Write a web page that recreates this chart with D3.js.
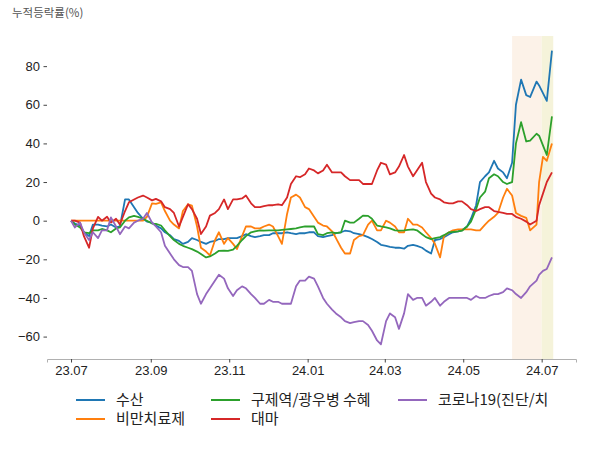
<!DOCTYPE html>
<html><head><meta charset="utf-8">
<script src="https://cdn.jsdelivr.net/npm/d3@7"></script>
<style>
body{margin:0;background:#fff;}
svg{display:block;font-family:"Noto Sans CJK KR","Noto Sans",sans-serif;}
</style></head>
<body><svg id="c" width="600" height="450"></svg>
<script>
const dates = ["2023-07-01","2023-07-04","2023-07-08","2023-07-11","2023-07-15","2023-07-18","2023-07-22","2023-07-25","2023-07-29","2023-08-01",
"2023-08-05","2023-08-08","2023-08-12","2023-08-15","2023-08-19","2023-08-22","2023-08-26","2023-08-29","2023-09-02","2023-09-05",
"2023-09-09","2023-09-12","2023-09-16","2023-09-19","2023-09-23","2023-09-26","2023-09-30","2023-10-03","2023-10-07","2023-10-10",
"2023-10-14","2023-10-17","2023-10-21","2023-10-24","2023-10-28","2023-10-31","2023-11-04","2023-11-07","2023-11-11","2023-11-14",
"2023-11-18","2023-11-21","2023-11-25","2023-11-28","2023-12-02","2023-12-05","2023-12-09","2023-12-12","2023-12-16","2023-12-19",
"2023-12-23","2023-12-26","2023-12-30","2024-01-02","2024-01-06","2024-01-09","2024-01-13","2024-01-16","2024-01-20","2024-01-23",
"2024-01-27","2024-01-30","2024-02-03","2024-02-06","2024-02-10","2024-02-13","2024-02-17","2024-02-20","2024-02-24","2024-02-27",
"2024-03-02","2024-03-05","2024-03-09","2024-03-12","2024-03-16","2024-03-19","2024-03-23","2024-03-26","2024-03-30","2024-04-02",
"2024-04-06","2024-04-09","2024-04-13","2024-04-16","2024-04-20","2024-04-23","2024-04-27","2024-04-30","2024-05-04","2024-05-07",
"2024-05-11","2024-05-14","2024-05-18","2024-05-21","2024-05-25","2024-05-28","2024-06-01","2024-06-04","2024-06-08",
"2024-06-11","2024-06-15","2024-06-19","2024-06-22","2024-06-27","2024-06-29","2024-07-02","2024-07-05","2024-07-09"];

const seriesNames = ["수산","비만치료제","구제역/광우병 수혜","대마","코로나19(진단/치"];
const seriesColors = ["#1f77b4","#ff7f0e","#2ca02c","#d62728","#9467bd"];

const suSan = [0,-1.5,-2.5,-6,-8,-2,-2,-2.6,-3,-2,
-3.5,-3,11,11,7,4,1,-0.5,-1,-2.5,
-4,-6,-7.5,-9.5,-10.5,-12,-11,-9,-10,-11,
-12,-11,-10.5,-9.5,-9.5,-9,-9,-9,-8,-7,
-8,-8.5,-8,-7.5,-7.5,-6.5,-6.5,-6.5,-6,-6.5,
-7,-6.5,-6.5,-6,-6,-8,-8.5,-8,-7.5,-6.5,
-6,-5.2,-5.5,-6.5,-7,-7.5,-8.5,-9.5,-11,-12.5,
-13,-13.5,-14,-14,-14.5,-13,-12.5,-13,-14,-15.5,
-17,-10,-9.5,-8.5,-7,-6,-5.5,-5,-3,1,
8,20,23,25,31,27,25,22,30,
60,73,65,64,72,70,66,62,88];

const biman = [0,0,0,0,0,0,0,0,0,0,
0,0,0,0,0,0,0,2,9,8.7,
9.5,5,0,-2,-4,5,8.5,7.8,-3,-14,
-16,-18,-10,-6,-12,-9,-12,-14.7,-8,-3,
-3,-4,-4,-3,-2,-3,-8,-12,3.5,12,
13.5,12,7,6,2,-1,-2.5,-3,-5.5,-9,
-14,-17,-17,-10,-8,-7.5,-2,0,-5,-5,
0,-1,-3,-6,-6,1,-2,-2,-3.5,-6,
-9,-12,-19,-8,-6,-5,-4.5,-4.5,-4.5,-4.5,
-5,-5,-2,0,2,4,12,16.5,13,
4,2.5,1.5,-5,-2,20,33,31,40];

const gujeyeok = [0,-2,-3.5,-6,-6.5,-5,-5,-4.3,-5,-6,
-4,-3.5,0,1.7,2.5,2,1,0,-1.5,-1.7,
-2.5,-5,-8,-10,-12,-13,-14,-14.7,-16,-17.3,
-19,-18.5,-17,-15.6,-15.5,-15.6,-15,-13,-10,-8,
-6,-5.5,-5,-5.2,-5,-5,-5,-4.8,-4.5,-4.3,
-4,-3.5,-3,-3,-3,-7,-7.5,-6.5,-6,-6.5,
-6,0,-1,-1,1,2.6,2.5,1,-2.5,-3,
-3.5,-4,-5,-5.2,-5,-4.8,-4.5,-5,-7,-8.5,
-9.5,-9,-8.5,-7.5,-6,-5.8,-5.5,-5.2,-3,-0.5,
6,12,15,22,24,23,20,19,20,
40,51,41,41.5,45,44,39,34,54];

const daema = [0,0,-1,-8,-14,-4,2,0,2,-1,
1,-2,5,9.5,11,12,13,12,10.5,11.3,
10,7,6,4,-3,2,8.5,6,1,-6.9,
-3,2.6,4,6,11,6,11,11,11.5,13,
9,7,7,7.5,8,8,8.5,8,12,19,
23,22.5,24,27,26,24.5,26,29,25,25,
25,23,21,21,21,19,19,19,26,30,
29,24,25,28,34,28,23,26,30,20,
14,12,11,9.5,9,9,10,10,8,6,
5,6,7,7,5,4.5,4,3.5,3.5,
2,1,-0.5,-2,0,8,14,20,25];

const corona = [0,-3.5,-1,-6,-10,-6,-9,-5,-5,1.7,
-3,-7,-3,-4,-1,0,1,4,-1,-3,
-6,-13,-17,-20,-23,-24,-24,-26,-38,-43,
-38,-35,-31,-28,-30,-35,-39,-36,-34,-35,
-38,-40,-43,-43,-41,-42,-42,-43,-43,-43,
-34,-31,-31,-29,-30,-34,-40,-43,-46,-48,
-50,-52,-53,-52.5,-52,-52,-54,-57,-62,-64,
-52,-48,-50,-56,-48,-38,-41,-40,-40,-44,
-42,-40,-44,-42,-40,-40,-40,-40,-40,-41,
-39,-40,-40,-39,-38,-38,-37,-35,-36,
-38,-40,-37,-34,-31,-28,-26,-25,-19];

const seriesValues = [suSan, biman, gujeyeok, daema, corona];
const yTicks = [-60,-40,-20,0,20,40,60,80];
const xTickDates = ["2023-07-01","2023-09-01","2023-11-01","2024-01-01","2024-03-01","2024-05-01","2024-07-01"];
const xTickLabels = ["23.07","23.09","23.11","24.01","24.03","24.05","24.07"];
const spans = [["2024-06-08","2024-07-01","#fcf2e8"],["2024-07-01","2024-07-10","#f5f3da"]];
const titleText = "누적등락률(%)";

const parse = d3.timeParse("%Y-%m-%d");
const dts = dates.map(parse);
const svg = d3.select("#c");
const L = 47, R = 576, T = 36, B = 359;

const t0 = dts[0], t1 = dts[dts.length-1];
const pad = (t1 - t0) * 0.05;
const x = d3.scaleTime().domain([new Date(+t0 - pad), new Date(+t1 + pad)]).range([L, R]);
const allV = seriesValues.flat();
const vmin = d3.min(allV), vmax = d3.max(allV);
const vp = (vmax - vmin) * 0.05;
const y = d3.scaleLinear().domain([vmin - vp, vmax + vp]).range([B, T]);

spans.forEach(s => {
  svg.append("rect").attr("x", x(parse(s[0]))).attr("y", T)
    .attr("width", x(parse(s[1])) - x(parse(s[0]))).attr("height", B - T)
    .attr("fill", s[2]);
});

const xAxis = d3.axisBottom(x).tickValues(xTickDates.map(parse))
  .tickFormat((d,i) => xTickLabels[i]).tickSize(3.5).tickPadding(3.5);
const gx = svg.append("g").attr("transform", `translate(0,${B})`).call(xAxis);
gx.select(".domain").attr("stroke", "#b0b0b0");
gx.selectAll(".tick line").attr("stroke", "#444");
gx.selectAll(".tick text").attr("fill", "#222").style("font-size", "13px");

const yAxis = d3.axisLeft(y).tickValues(yTicks).tickSize(3.5).tickPadding(3.5);
const gy = svg.append("g").attr("transform", `translate(${L},0)`).call(yAxis);
gy.select(".domain").remove();
gy.selectAll(".tick line").attr("stroke", "#444");
gy.selectAll(".tick text").attr("fill", "#222").style("font-size", "13px");

const line = d3.line().x((d,i) => x(dts[i])).y(d => y(d));
seriesValues.forEach((vals, si) => {
  svg.append("path").datum(vals).attr("d", line)
    .attr("fill", "none").attr("stroke", seriesColors[si])
    .attr("stroke-width", 1.8).attr("stroke-linejoin", "round");
});

svg.append("text").attr("x", 12).attr("y", 17).text(titleText)
  .attr("fill", "#555").style("font-size", "11.5px");

const legPos = [[76,400],[76,419],[211,400],[211,419],[398,400]];
seriesNames.forEach((n, i) => {
  const [lx, ly] = legPos[i];
  svg.append("line").attr("x1", lx).attr("x2", lx + 29).attr("y1", ly).attr("y2", ly)
    .attr("stroke", seriesColors[i]).attr("stroke-width", 2);
  svg.append("text").attr("x", lx + 40).attr("y", ly + 5).text(n)
    .attr("fill", "#222").style("font-size", "15px");
});
</script></body></html>
